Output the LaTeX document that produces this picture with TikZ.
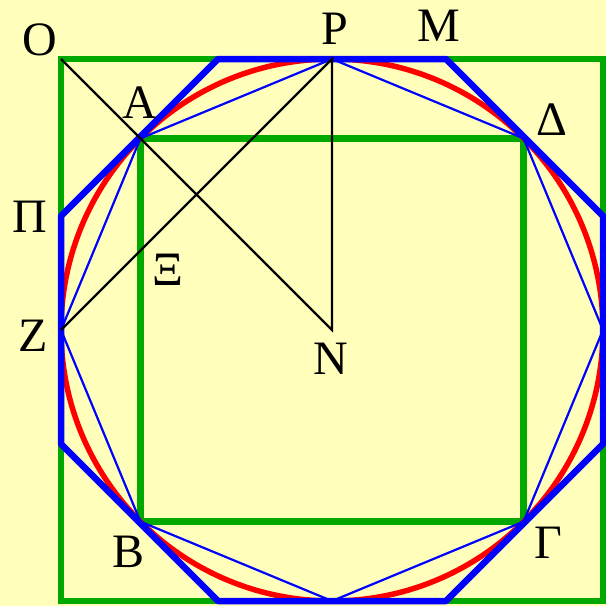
\documentclass[tikz,border=0pt]{standalone}
\usepackage{fontspec}
\setmainfont{Liberation Serif}
\usetikzlibrary{calc}
\definecolor{paper}{RGB}{255,255,187}
\definecolor{squaregreen}{RGB}{0,168,0}

\begin{document}
\begin{tikzpicture}[x=1pt, y=-1pt,
  square/.style={draw=squaregreen, line width=6.5pt},
  circ/.style={draw=red, line width=5.5pt},
  octagon/.style={draw=blue, line width=6.5pt, line join=round},
  chord/.style={draw=blue, line width=2.2pt},
  aux/.style={draw=black, line width=2.2pt},
  lbl/.style={font=\fontsize{48}{50}\selectfont, inner sep=0pt}
]

% Background
\fill[paper] (0,0) rectangle (606,606);
\useasboundingbox (0,0) rectangle (606,606);

% Points
\coordinate (N) at (332,330);
\coordinate (O) at (61,59);
\coordinate (P) at (332,59);
\coordinate (Z) at (61,330);
\coordinate (R) at (603,330);
\coordinate (S) at (332,601);
\coordinate (A) at (140.4,138.4);
\coordinate (D) at (523.6,138.4);
\coordinate (G) at (523.6,521.6);
\coordinate (B) at (140.4,521.6);
\coordinate (M) at (446,59);
\coordinate (Pi) at (61,216);

% Squares
\draw[square] (O) rectangle (603,601);
\draw[square] (A) rectangle (G);

% Circle
\draw[circ] (N) circle[radius=271pt];

% Chords
\draw[chord] (P) -- (A) -- (Z) -- (B) -- (S) -- (G) -- (R) -- (D) -- cycle;

% Octagon
\draw[octagon] (218,59) -- (M) -- (603,216) -- (603,444) -- (446,601)
  -- (218,601) -- (61,444) -- (Pi) -- cycle;

% Auxiliary lines
\draw[aux] (O) -- (N) -- (P) -- (Z);

% Labels
\node[lbl] (lO) at (40,40) {Ο};
\node[lbl] (lP) at (335,29) {Ρ};
\node[lbl] (lM) at (439,26) {Μ};
\node[lbl] (lA) at (140,103) {Α};
\node[lbl] (lD) at (552,120) {Δ};
\node[lbl] (lPi) at (30,217) {Π};
\node[lbl] (lZ) at (33,336) {Ζ};
\node[lbl] (lXi) at (168,270) {Ξ};
\node[lbl] (lN) at (331,359) {Ν};
\node[lbl] (lB) at (129,552) {Β};
\node[lbl] (lG) at (548,543) {Γ};

\end{tikzpicture}
\end{document}
